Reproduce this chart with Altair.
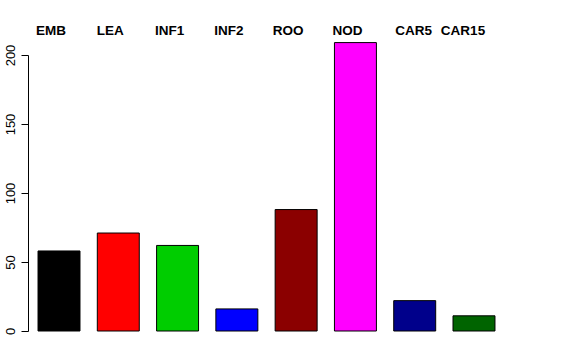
import altair as alt
import pandas as pd

categories = ["EMB", "LEA", "INF1", "INF2", "ROO", "NOD", "CAR5", "CAR15"]
values = [58, 71, 62, 16, 88, 209, 22, 11]
colors = ["#000000", "#FF0000", "#00CD00", "#0000FF", "#8B0000", "#FF00FF", "#00008B", "#006400"]

df = pd.DataFrame({"cat": categories, "val": values})

FONT = "Liberation Sans"

bars = alt.Chart(df).mark_bar(stroke="#000000", strokeWidth=1).encode(
    x=alt.X(
        "cat:N",
        sort=categories,
        scale=alt.Scale(paddingInner=0.292, paddingOuter=0.169),
        axis=alt.Axis(
            orient="top",
            title=None,
            domain=False,
            ticks=False,
            labelAngle=0,
            labelAlign="center",
            labelBaseline="alphabetic",
            labelPadding=21,
            labelFont=FONT,
            labelFontSize=13.5,
            labelFontWeight="bold",
            labelColor="#000000",
            labelOffset={
                "condition": [
                    {"test": "datum.value == 'CAR5'", "value": -1},
                    {"test": "datum.value == 'CAR15'", "value": -11},
                ],
                "value": -8,
            },
        ),
    ),
    y=alt.Y(
        "val:Q",
        scale=alt.Scale(domain=[0, 200], nice=False, zero=True),
        axis=alt.Axis(
            title=None,
            values=[0, 50, 100, 150, 200],
            grid=False,
            domainColor="#000000",
            tickColor="#000000",
            tickSize=7,
            labelAngle=270,
            labelAlign="center",
            labelBaseline="bottom",
            labelPadding=4,
            labelFont=FONT,
            labelFontSize=13,
            labelColor="#000000",
        ),
    ),
    color=alt.Color("cat:N", scale=alt.Scale(domain=categories, range=colors), legend=None),
)

chart = bars.properties(
    width=477,
    height=276,
    autosize=alt.AutoSizeParams(type="none"),
    padding={"left": 28, "top": 55, "right": 71, "bottom": 29},
    background="white",
).configure_view(stroke=None)

chart.save("out.html", embed_options={"renderer": "svg", "actions": False})
